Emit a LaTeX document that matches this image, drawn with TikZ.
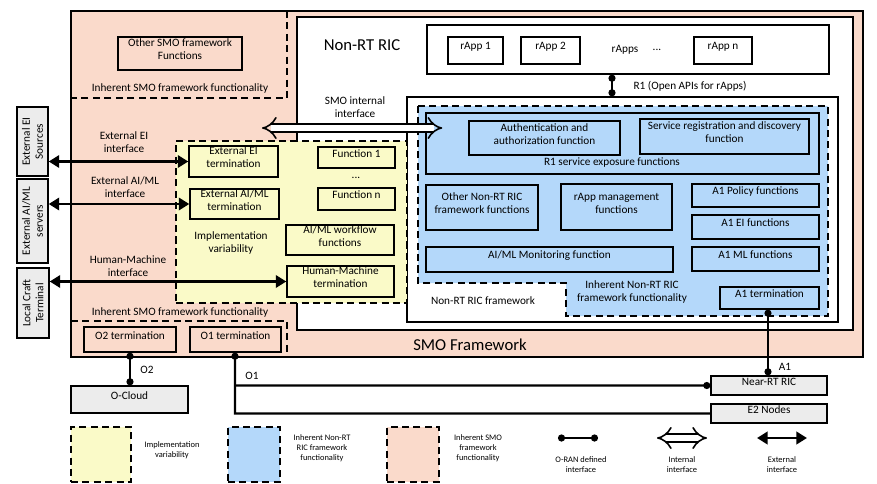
\documentclass[tikz,border=0pt]{standalone}
\usepackage{fontspec}
\setmainfont{Carlito}
\usetikzlibrary{arrows.meta,fit,calc}
\definecolor{smo}{RGB}{250,218,203}
\definecolor{ric}{RGB}{180,216,250}
\definecolor{impl}{RGB}{250,250,200}
\definecolor{gry}{RGB}{236,236,236}
\tikzset{
	box/.style={draw,thick,inner sep=0pt,align=center,font=\fontsize{6.4}{7.4}\selectfont},
	txt/.style={align=center,font=\fontsize{6.4}{7.4}\selectfont},
	small/.style={align=center,font=\fontsize{4.8}{5.6}\selectfont},
	dsh/.style={draw,thick,dash pattern=on 4pt off 2.5pt},
	oran/.style={line width=1.3pt,{Circle[length=4pt]}-{Circle[length=4pt]}},
	ext/.style={line width=1.6pt,{Triangle[length=6pt,width=7pt]}-{Triangle[length=6pt,width=7pt]}},
	int/.style={double,double distance=3.5pt,line width=0.9pt,{Implies[length=5pt]}-{Implies[length=5pt]}}
}
\begin{document}
\begin{tikzpicture}[x=0.02cm,y=-0.02cm]
	\useasboundingbox (0,0) rectangle (877,484);
	% SMO framework
	\node[box,fill=smo,fit={(71,11) (863,357)}] (smo) {};
	\node[font=\fontsize{9.5}{10}\selectfont] at (470,345) {SMO Framework};
	\draw[dsh] (287,11) -- (287,98) -- (71,98);
	\draw[dsh] (71,321) -- (287,321) -- (287,357);
	\node[box,fit={(118,37) (242,70)}] (other) {Other SMO framework\\Functions};
	\node[txt] at (180,88) {Inherent SMO framework functionality};
	\node[txt] at (180,312) {Inherent SMO framework functionality};
	\node[box,fit={(84,327) (176,352)}] (o2t) {O2 termination};
	\node[box,fit={(190,327) (281,352)}] (o1t) {O1 termination};
	% Non-RT RIC
	\node[box,fill=white,fit={(297,17) (853,330)}] (ric) {};
	\node[font=\fontsize{9.5}{10}\selectfont] at (362,45) {Non-RT RIC};
	\node[box,fit={(427,25) (829,74)}] (rapps) {};
	\node[box,fit={(448,37) (503,64)}] (rapp1) {rApp 1};
	\node[box,fit={(521,37) (580,64)}] (rapp2) {rApp 2};
	\node[txt] at (625,50) {rApps};
	\node[txt] at (657,50) {...};
	\node[box,fit={(694,37) (752,64)}] (rappn) {rApp n};
	\node[box,fill=white,fit={(407,97) (838,322)}] (fw) {};
	\node[txt] at (483,301) {Non-RT RIC framework};
	\fill[ric] (418,106) -- (828,106) -- (828,316) -- (566,316) -- (566,283) -- (418,283) -- cycle;
	\draw[dsh] (418,106) -- (828,106) -- (828,316) -- (566,316) -- (566,283) -- (418,283) -- cycle;
	\node[box,fit={(426,113) (819,174)}] (r1sx) {};
	\node[txt] at (612,163) {R1 service exposure functions};
	\node[box,fit={(469,121) (620,155)}] (auth) {Authentication and\\authorization function};
	\node[box,fit={(640,119) (809,154)}] (reg) {Service registration and discovery\\function};
	\node[box,fit={(426,185) (538,230)}] (othric) {Other Non-RT RIC\\framework functions};
	\node[box,fit={(561,184) (672,230)}] (rappm) {rApp management\\functions};
	\node[box,fit={(692,184) (819,207)}] (a1p) {A1 Policy functions};
	\node[box,fit={(692,215) (819,239)}] (a1ei) {A1 EI functions};
	\node[box,fit={(426,247) (673,272)}] (mon) {AI/ML Monitoring function};
	\node[box,fit={(692,247) (819,271)}] (a1ml) {A1 ML functions};
	\node[box,fit={(720,287) (819,309)}] (a1t) {A1 termination};
	\node[txt] at (632,292) {Inherent Non-RT RIC\\framework functionality};
	% implementation variability
	\node[dsh,fill=impl,fit={(176,141) (407,303)},inner sep=0pt] (impl) {};
	\node[box,fit={(189,146) (278,177)}] (eit) {External EI\\termination};
	\node[box,fit={(190,189) (279,219)}] (aimlt) {External AI/ML\\termination};
	\node[box,fit={(318,147) (395,168)}] (f1) {Function 1};
	\node[txt] at (356,178) {...};
	\node[box,fit={(318,188) (395,210)}] (fn) {Function n};
	\node[box,fit={(286,225) (394,255)}] (wf) {AI/ML workflow\\functions};
	\node[box,fit={(287,266) (394,297)}] (hmt) {Human-Machine\\termination};
	\node[txt] at (231,243) {Implementation\\variability};
	% external entities
	\node[box,fill=gry,fit={(17,107) (48,176)}] (eis) {};
	\node[txt,rotate=90] at (eis) {External EI\\Sources};
	\node[box,fill=gry,fit={(17,179) (48,263)}] (aims) {};
	\node[txt,rotate=90] at (aims) {External AI/ML\\servers};
	\node[box,fill=gry,fit={(17,268) (49,338)}] (lct) {};
	\node[txt,rotate=90] at (lct) {Local Craft\\Terminal};
	\draw[ext] (eis.east |- eit.west) -- (eit.west);
	\draw[ext] (aims.east |- aimlt.west) -- (aimlt.west);
	\draw[ext] (lct.east |- hmt.west) -- (hmt.west);
	\node[txt] at (124,142) {External EI\\interface};
	\node[txt] at (125,187) {External AI/ML\\interface};
	\node[txt] at (128,266) {Human-Machine\\interface};
	\node[txt] at (355,107) {SMO internal\\interface};
	\coordinate (smoi) at (262,128);
	\draw[int] (smoi) -- (smoi -| r1sx.west) -- ++(17,0);
	% interfaces
	\coordinate (r1x) at (612,0);
	\draw[oran] (rapps.south -| r1x) -- (fw.north -| r1x);
	\node[txt] at (690,86) {R1 (Open APIs for rApps)};
	\node[box,fill=gry,fit={(71,386) (188,413)}] (ocloud) {O-Cloud};
	\node[box,fill=gry,fit={(711,376) (827,395)}] (nrt) {Near-RT RIC};
	\node[box,fill=gry,fit={(711,404) (827,423)}] (e2) {E2 Nodes};
	\draw[oran] (o2t.south -| 130,0) -- (ocloud.north -| 130,0);
	\node[txt] at (147,370) {O2};
	\draw[oran,{Circle[length=4pt]}-] (o1t.south -| 235,0) -- (235,413.5) -- (e2.west);
	\draw[oran,-{Circle[length=4pt]}] (235,385.5) -- (nrt.west);
	\node[txt] at (252,376) {O1};
	\draw[oran] (a1t.south -| 768,0) -- (nrt.north -| 768,0);
	\node[txt] at (785,367) {A1};
	% legend
	\node[dsh,fill=impl,fit={(71,427) (131,482)},inner sep=0pt] (lg1) {};
	\node[small] at (172,450) {Implementation\\variability};
	\node[dsh,fill=ric,fit={(228,427) (280,482)},inner sep=0pt] (lg2) {};
	\node[small] at (322,448) {Inherent Non-RT\\RIC framework\\functionality};
	\node[dsh,fill=smo,fit={(387,427) (439,482)},inner sep=0pt] (lg3) {};
	\node[small] at (478,448) {Inherent SMO\\framework\\functionality};
	\coordinate (lo1) at (558,438);
	\coordinate (lo2) at (598,438);
	\draw[oran] (lo1) -- (lo2);
	\node[small] at (581,465) {O-RAN defined\\interface};
	\coordinate (li1) at (657,438);
	\coordinate (li2) at (707,438);
	\draw[int] (li1) -- (li2);
	\node[small] at (682,465) {Internal\\interface};
	\coordinate (le1) at (757,438);
	\coordinate (le2) at (807,438);
	\draw[ext] (le1) -- (le2);
	\node[small] at (782,465) {External\\interface};
\end{tikzpicture}
\end{document}
